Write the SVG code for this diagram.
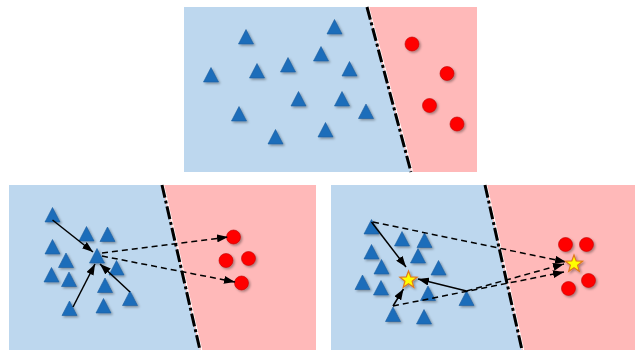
<svg xmlns="http://www.w3.org/2000/svg" xmlns:xlink="http://www.w3.org/1999/xlink" width="635" height="350" viewBox="0 0 635 350">
<style>
.blue{fill:#BDD7EE}
.red{fill:#FFB9B9}
.tri{fill:#1F6DBA;stroke:#1A5C9E;stroke-width:0.6;filter:url(#sh)}
.dot{fill:#FF0000;stroke:#C00000;stroke-width:0.6;filter:url(#sh)}
.star{fill:#FFFF00;stroke:#E0781E;stroke-width:1.2;filter:url(#sh)}
.bnd{fill:none;stroke:#000;stroke-width:3;stroke-dasharray:13 3 3 3}
.bndw{fill:none;stroke:#fff;stroke-width:1.2}
.sol{fill:none;stroke:#000;stroke-width:1.5;marker-end:url(#ah)}
.dsh{fill:none;stroke:#000;stroke-width:1.5;stroke-dasharray:6 4;marker-end:url(#ah)}
</style>
<defs>
<filter id="sh" x="-50%" y="-50%" width="200%" height="200%">
<feDropShadow dx="1.5" dy="1.5" stdDeviation="1" flood-color="#000" flood-opacity="0.35"/>
</filter>
<path id="t" d="M0,-7.5 L7.5,7 L-7.5,7 Z"/>
<path id="s" d="M0,-9 L2.23,-3.07 L8.56,-2.78 L3.61,1.17 L5.29,7.28 L0,3.8 L-5.29,7.28 L-3.61,1.17 L-8.56,-2.78 L-2.23,-3.07 Z"/>
<marker id="ah" markerUnits="userSpaceOnUse" markerWidth="12" markerHeight="8" refX="11" refY="4" orient="auto">
<path d="M0,0 L11,4 L0,8 Z" fill="#000"/>
</marker>
</defs>

<g id="panel-top">
<polygon class="blue" points="184,7 367,7 411,172 184,172"/>
<polygon class="red" points="367,7 477,7 477,172 411,172"/>
<line class="bndw" x1="368.6" y1="7" x2="412.6" y2="172"/>
<line class="bnd" x1="367" y1="7" x2="411" y2="172"/>
</g>
<g id="panel-bl">
<polygon class="blue" points="9,185 162,185 200,350 9,350"/>
<polygon class="red" points="162,185 316,185 316,350 200,350"/>
<line class="bndw" x1="163.6" y1="185" x2="201.6" y2="350"/>
<line class="bnd" x1="162" y1="185" x2="200" y2="350"/>
</g>
<g id="panel-br">
<polygon class="blue" points="331,185 485,185 522,350 331,350"/>
<polygon class="red" points="485,185 635,185 635,350 522,350"/>
<line class="bndw" x1="486.6" y1="185" x2="523.6" y2="350"/>
<line class="bnd" x1="485" y1="185" x2="522" y2="350"/>
</g>

<g id="top-nodes">
<use href="#t" class="tri" x="246" y="37"/>
<use href="#t" class="tri" x="334.5" y="27"/>
<use href="#t" class="tri" x="321" y="54"/>
<use href="#t" class="tri" x="211" y="75"/>
<use href="#t" class="tri" x="257" y="71"/>
<use href="#t" class="tri" x="288" y="65"/>
<use href="#t" class="tri" x="349.5" y="69"/>
<use href="#t" class="tri" x="298.5" y="99"/>
<use href="#t" class="tri" x="342" y="99"/>
<use href="#t" class="tri" x="239" y="114"/>
<use href="#t" class="tri" x="366" y="111.5"/>
<use href="#t" class="tri" x="275.5" y="137"/>
<use href="#t" class="tri" x="325.5" y="130"/>
<circle class="dot" cx="412" cy="44" r="7"/>
<circle class="dot" cx="447" cy="73.5" r="7"/>
<circle class="dot" cx="429.5" cy="105.5" r="7"/>
<circle class="dot" cx="457" cy="124" r="7"/>
</g>

<g id="bl-nodes">
<use href="#t" class="tri" x="52.5" y="215"/>
<use href="#t" class="tri" x="86.5" y="234"/>
<use href="#t" class="tri" x="107.5" y="234.5"/>
<use href="#t" class="tri" x="52.5" y="247"/>
<use href="#t" class="tri" x="66" y="260.5"/>
<use href="#t" class="tri" x="97" y="256"/>
<use href="#t" class="tri" x="116.5" y="268"/>
<use href="#t" class="tri" x="51.5" y="275"/>
<use href="#t" class="tri" x="69" y="279.5"/>
<use href="#t" class="tri" x="105" y="285.5"/>
<use href="#t" class="tri" x="130" y="298.5"/>
<use href="#t" class="tri" x="69.5" y="308.5"/>
<use href="#t" class="tri" x="103.5" y="306"/>
<circle class="dot" cx="233.5" cy="237" r="7"/>
<circle class="dot" cx="226" cy="260.5" r="7"/>
<circle class="dot" cx="248.5" cy="258.5" r="7"/>
<circle class="dot" cx="241.5" cy="283" r="7"/>
</g>

<g id="br-nodes">
<use href="#t" class="tri" x="371.5" y="227"/>
<use href="#t" class="tri" x="402" y="239"/>
<use href="#t" class="tri" x="424.5" y="240.5"/>
<use href="#t" class="tri" x="371.5" y="252"/>
<use href="#t" class="tri" x="418" y="256"/>
<use href="#t" class="tri" x="381.5" y="267"/>
<use href="#t" class="tri" x="438.5" y="268"/>
<use href="#t" class="tri" x="362.5" y="282.5"/>
<use href="#t" class="tri" x="381" y="288"/>
<use href="#t" class="tri" x="428" y="293.5"/>
<use href="#t" class="tri" x="466.5" y="298.5"/>
<use href="#t" class="tri" x="393" y="314.5"/>
<use href="#t" class="tri" x="424" y="317"/>
<circle class="dot" cx="565.5" cy="244.5" r="7"/>
<circle class="dot" cx="586.5" cy="244.5" r="7"/>
<circle class="dot" cx="588.5" cy="280.5" r="7"/>
<circle class="dot" cx="568.5" cy="288.5" r="7"/>
</g>

<g id="connectors">
<line class="sol" x1="52.5" y1="220" x2="93" y2="252"/>
<line class="sol" x1="73" y1="307" x2="95" y2="264"/>
<line class="sol" x1="130" y1="292" x2="100" y2="264"/>
<line class="dsh" x1="102" y1="253" x2="228" y2="237"/>
<line class="dsh" x1="102" y1="256" x2="235" y2="282"/>
<line class="sol" x1="371.5" y1="222" x2="406" y2="267"/>
<line class="sol" x1="466.5" y1="291" x2="418" y2="279"/>
<line class="sol" x1="393" y1="306" x2="403.5" y2="289"/>
<line class="dsh" x1="373" y1="222" x2="566" y2="262"/>
<line class="dsh" x1="466.5" y1="291" x2="564" y2="264"/>
<line class="dsh" x1="393" y1="306" x2="564" y2="272"/>
</g>

<g id="stars">
<use href="#s" class="star" x="408.5" y="280"/>
<use href="#s" class="star" x="574" y="264"/>
</g>
</svg>
